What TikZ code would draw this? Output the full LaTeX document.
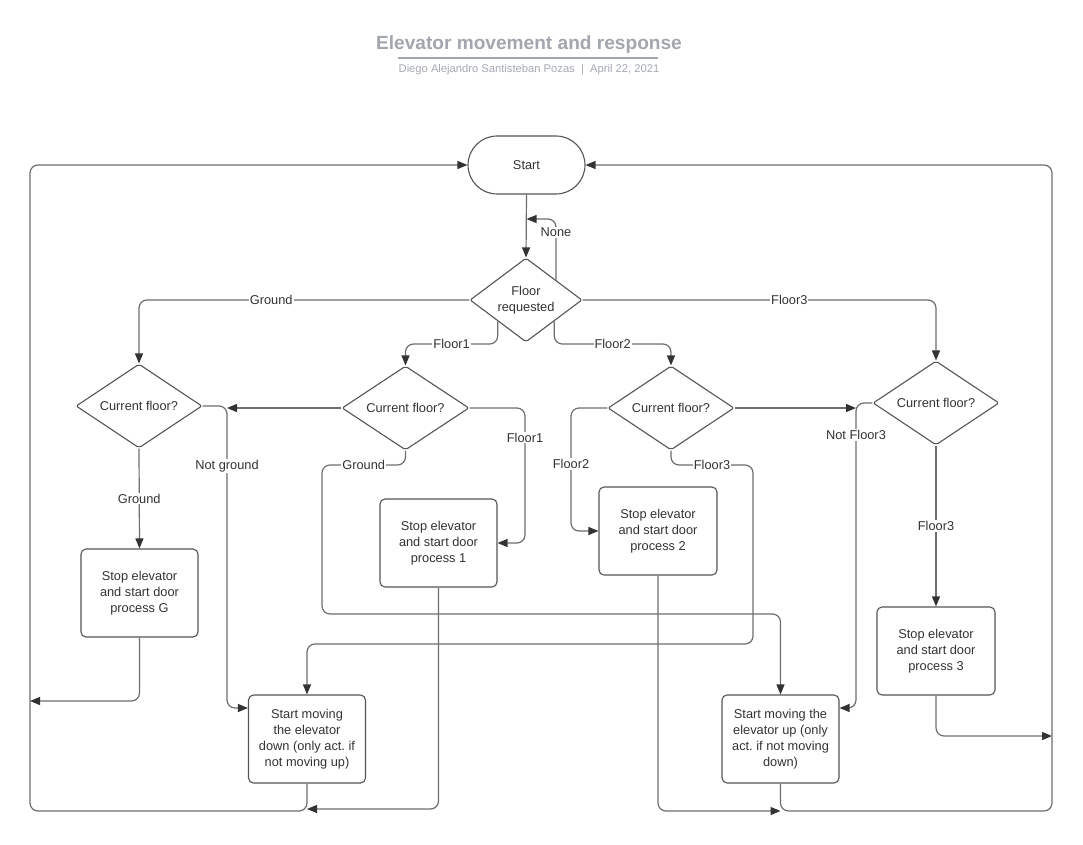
\documentclass[tikz,border=0pt]{standalone}
\usepackage{fontspec}
\setmainfont{Liberation Sans}
\frenchspacing
\usetikzlibrary{arrows.meta,shapes.geometric}
\definecolor{ink}{HTML}{333333}
\definecolor{linegray}{HTML}{6E6E6E}
\definecolor{framegray}{HTML}{555555}
\definecolor{titlegray}{HTML}{A2A7AF}
\definecolor{subgray}{HTML}{A5AAB2}
\begin{document}
\begin{tikzpicture}[x=1pt,y=-1pt,
  every node/.style={font=\fontsize{12.8}{16}\selectfont, text=ink},
  proc/.style={draw=framegray, line width=1.1pt, rounded corners=5pt,
    minimum width=117pt, minimum height=88pt, align=center, inner sep=0pt},
  decide/.style={draw=framegray, line width=1.1pt, diamond, aspect=1.5,
    minimum width=126pt, minimum height=84pt, inner sep=0pt, align=center,
    rounded corners=2pt},
  term/.style={draw=framegray, line width=1.1pt, rounded corners=29pt,
    minimum width=117pt, minimum height=58pt},
  link/.style={draw=linegray, line width=1.2pt, rounded corners=8pt},
  flow/.style={link, -{Triangle[length=10pt,width=8pt,color=ink]}},
  lab/.style={fill=white, inner sep=1pt, rounded corners=0pt}
]
\fill[white] (0,0) rectangle (1083,845);
\useasboundingbox (0,0) rectangle (1083,845);

% heading
\node[font=\fontsize{19.1}{22}\selectfont\bfseries, text=titlegray] (title) at (529,45) {Elevator movement and response};
\coordinate (ruleL) at (398,58);
\coordinate (ruleR) at (658,58);
\draw[titlegray, line width=1.3pt] (ruleL) -- (ruleR);
\node[font=\fontsize{11.2}{13}\selectfont, text=subgray] (byline) at (529,70) {Diego Alejandro Santisteban Pozas\ \ |\ \ April 22, 2021};

% nodes
\node[term] (start) at (526.5,165) {Start};
\node[decide, minimum width=112pt] (fr) at (526,300) {Floor\\requested};
\node[decide] (cfg) at (139,406) {Current floor?};
\node[decide, minimum width=127pt] (cf1) at (405.5,408) {Current floor?};
\node[decide] (cf2) at (671,408) {Current floor?};
\node[decide] (cf3) at (936,403) {Current floor?};
\node[proc] (stopg) at (139.5,593) {Stop elevator\\and start door\\process G};
\node[proc] (stop1) at (438.5,543) {Stop elevator\\and start door\\process 1};
\node[proc, minimum width=118pt] (stop2) at (658,531) {Stop elevator\\and start door\\process 2};
\node[proc, minimum width=118pt] (stop3) at (936,651) {Stop elevator\\and start door\\process 3};
\node[proc] (movedown) at (307,739) {Start moving\\the elevator\\down (only act. if\\not moving up)};
\node[proc] (moveup) at (780.5,739) {Start moving the\\elevator up (only\\act. if not moving\\down)};

% helper points for the routing
\coordinate (nonein) at (526.5,219);
\coordinate (nonefoot) at (556,280.5);
\coordinate (f12y) at (0,344);
\coordinate (ngx) at (227,708);
\coordinate (c1r) at (525,0);
\coordinate (g1a) at (322,465);
\coordinate (g1b) at (322,614);
\coordinate (c2l) at (571,0);
\coordinate (f3a) at (753,465);
\coordinate (f3b) at (753,644);
\coordinate (nf3) at (856,708);
\coordinate (rr) at (1052,736);
\coordinate (lr) at (30,701);
\coordinate (bot) at (0,811);
\coordinate (s1b) at (0,809);

% request dispatch
\draw[flow] (start.south) -- (fr.north);
\draw[flow] (nonefoot) -- node[lab, pos=0.78] (lnone) {None} (nonefoot |- nonein) -- (nonein);
\draw[flow] (fr.west) -- node[lab, pos=0.6] (lground) {Ground} (cfg.north |- fr.west) -- (cfg.north);
\draw[flow] (fr.east) -- node[lab, pos=0.585] (lfloor3) {Floor3} (cf3.north |- fr.east) -- (cf3.north);
\draw[flow] (fr.south west) -- (fr.south west |- f12y) -- node[lab] (lfloor1) {Floor1} (cf1.north |- f12y) -- (cf1.north);
\draw[flow] (fr.south east) -- (fr.south east |- f12y) -- node[lab] (lfloor2) {Floor2} (cf2.north |- f12y) -- (cf2.north);

% ground request
\draw[flow] (cfg.south) -- node[lab] (lgg) {Ground} (stopg.north);
\draw[flow] (cfg.east) -- (cfg.east -| ngx) -- node[lab, pos=0.2] (lng) {Not ground} (ngx) -- (movedown.west |- ngx);

% floor 1 request
\draw[flow] (cf1.west) -- (cf1.west -| ngx);
\draw[flow] (cf1.east) -- (cf1.east -| c1r) -- node[lab, pos=0.22] (l11) {Floor1} (stop1.east -| c1r) -- (stop1.east);
\draw[flow] (cf1.south) -- (cf1.south |- g1a) -- node[lab] (l1g) {Ground} (g1a) -- (g1b) -- (moveup.north |- g1b) -- (moveup.north);

% floor 2 request
\draw[flow] (cf2.west) -- (cf2.west -| c2l) -- node[lab, pos=0.455] (l22) {Floor2} (stop2.west -| c2l) -- (stop2.west);
\draw[flow] (cf2.south) -- (cf2.south |- f3a) -- node[lab] (l23) {Floor3} (f3a) -- (f3b) -- (movedown.north |- f3b) -- (movedown.north);
\draw[flow] (cf2.east) -- (cf2.east -| nf3);

% floor 3 request
\draw[flow] (cf3.west) -- (cf3.west -| nf3) -- node[lab, pos=0.105] (l3n) {Not Floor3} (nf3) -- (moveup.east |- nf3);
\draw[flow] (cf3.south) -- node[lab] (l33) {Floor3} (stop3.north);

% return paths to Start
\draw[flow] (stop3.south) -- (stop3.south |- rr) -- (rr);
\draw[flow] (moveup.south) -- (moveup.south |- bot) -- (rr |- bot) -- (rr |- start.east) -- (start.east);
\draw[flow] (movedown.south) -- (movedown.south |- bot) -- (lr |- bot) -- (lr |- start.west) -- (start.west);
\draw[flow] (stopg.south) -- (stopg.south |- lr) -- (lr);
\draw[flow] (stop1.south) -- (stop1.south |- s1b) -- (movedown.south |- s1b);
\draw[flow] (stop2.south) -- (stop2.south |- bot) -- (moveup.south |- bot);
\end{tikzpicture}
\end{document}
